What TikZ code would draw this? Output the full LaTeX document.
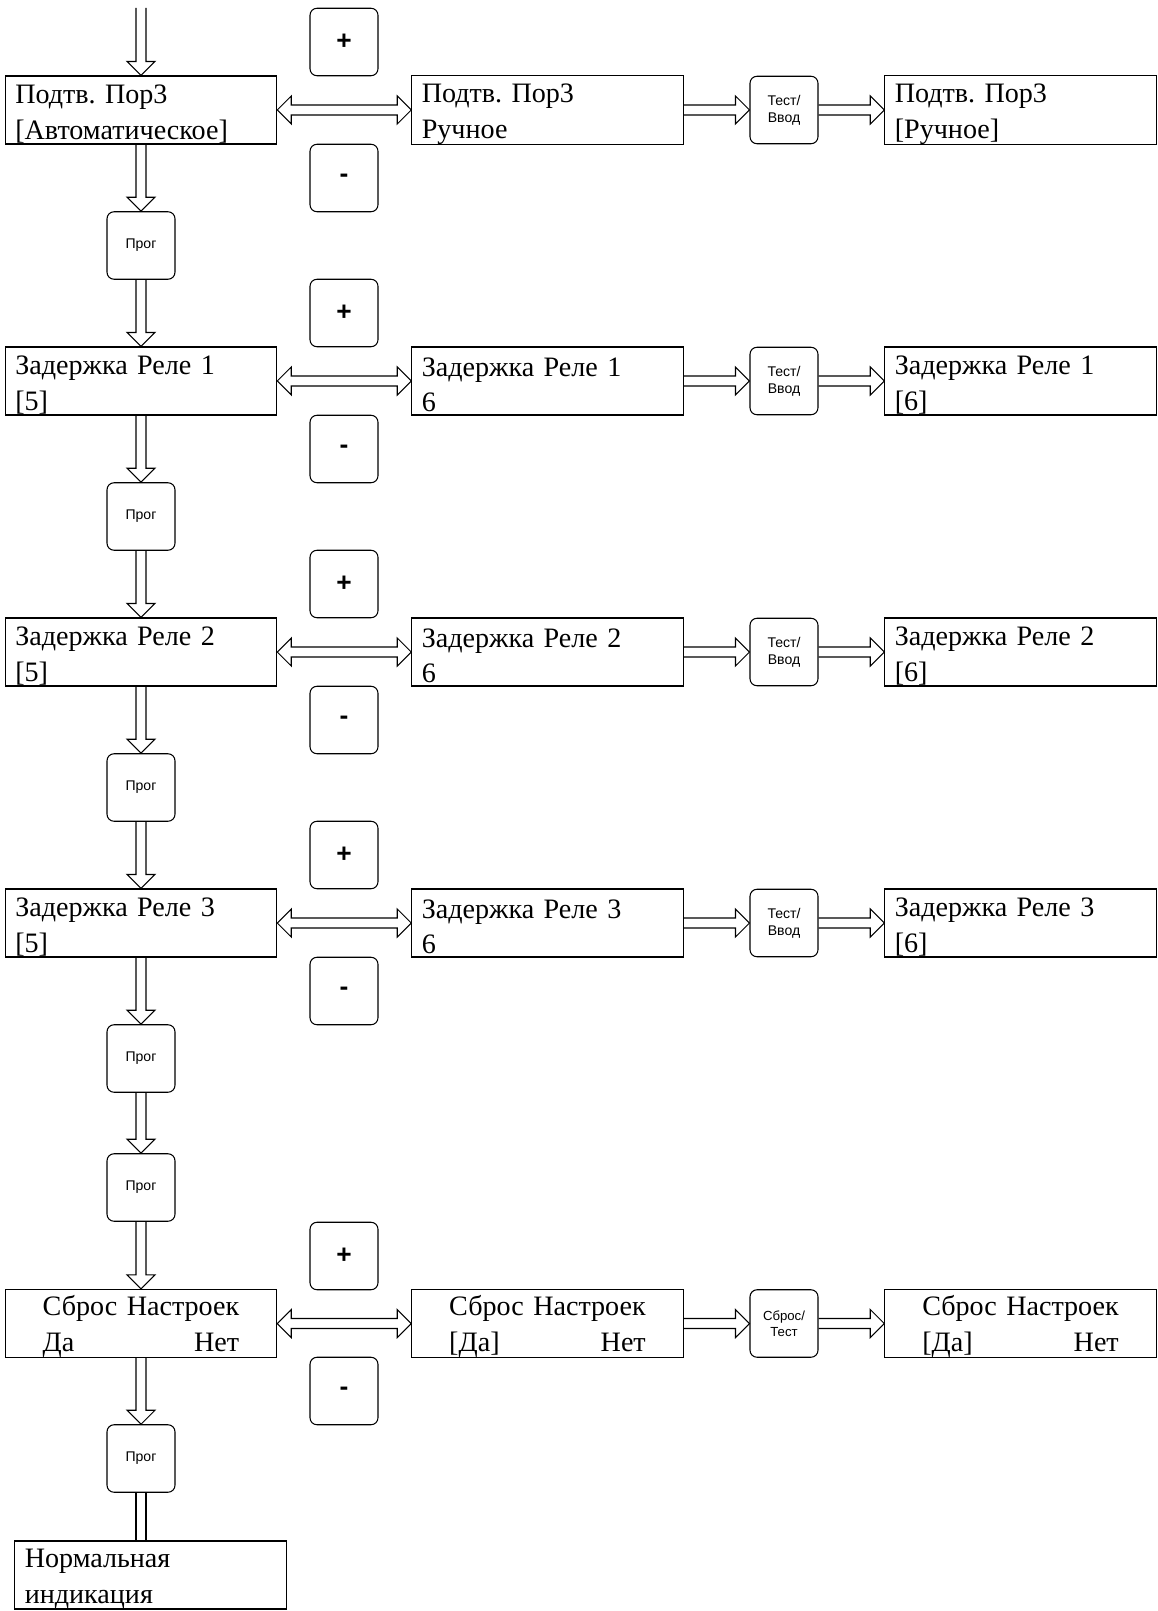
\documentclass[tikz,border=0pt]{standalone}
\usepackage{fontspec}
\setmainfont{Liberation Serif}
\setsansfont{Liberation Sans}
\usetikzlibrary{calc}
\frenchspacing

\tikzset{
  screenbox/.style={draw, line width=0.6pt, inner xsep=0.2cm, inner ysep=0pt, text width=5.03cm, minimum height=1.36cm, align=left, font=\fontsize{16}{20.4}\selectfont, execute at begin node={\rule{0pt}{15pt}}},
  keybox/.style={draw, line width=0.6pt, rounded corners=4pt, minimum width=1.36cm, minimum height=1.35cm, inner sep=0pt, align=center, font=\sffamily\fontsize{8}{9.6}\selectfont},
  signbox/.style={keybox, font=\sffamily\bfseries\fontsize{15}{18}\selectfont},
  hollow/.style={line width=0.6pt, line join=miter}
}

% hollow block arrows between two anchors
\newcommand\arrdown[2]{\draw[hollow] ($(#1)+(-5,0)$) -- ($(#2)+(-5,-14)$) -- ($(#2)+(-14,-14)$) -- (#2) -- ($(#2)+(14,-14)$) -- ($(#2)+(5,-14)$) -- ($(#1)+(5,0)$);}
\newcommand\arrright[2]{\draw[hollow] ($(#1)+(0,-5)$) -- ($(#2)+(-14,-5)$) -- ($(#2)+(-14,-14)$) -- (#2) -- ($(#2)+(-14,14)$) -- ($(#2)+(-14,5)$) -- ($(#1)+(0,5)$);}
\newcommand\arrboth[2]{\draw[hollow] (#1) -- ($(#1)+(14,-14)$) -- ($(#1)+(14,-5)$) -- ($(#2)+(-14,-5)$) -- ($(#2)+(-14,-14)$) -- (#2) -- ($(#2)+(-14,14)$) -- ($(#2)+(-14,5)$) -- ($(#1)+(14,5)$) -- ($(#1)+(14,14)$) -- cycle;}
\newcommand\arrshaft[2]{\draw[hollow] ($(#1)+(-5,0)$) -- ($(#2)+(-5,0)$) ($(#1)+(5,0)$) -- ($(#2)+(5,0)$);}
% second line of the reset screens
\newcommand\yesno[2]{\leavevmode\rlap{#1}\phantom{Сброс Настроек}\llap{#2}}

\begin{document}
\begin{tikzpicture}[x=0.02cm, y=-0.02cm]

  \useasboundingbox (0,0) rectangle (1157,1611);

  % Porog 3 confirmation
  \coordinate (start) at (141,8);
  \node (porog-auto) at (141,110) [screenbox] {Подтв. Пор3\\{[Автоматическое]}};
  \node (porog-manual) at (547.5,110) [screenbox] {Подтв. Пор3\\Ручное};
  \node (porog-enter) at (784,110) [keybox] {Тест/\\Ввод};
  \node (porog-saved) at (1020.5,110) [screenbox] {Подтв. Пор3\\{[Ручное]}};
  \node (porog-plus) at (344,42) [signbox] {+};
  \node (porog-minus) at (344,178) [signbox] {-};
  \node (porog-prog) at (141,245.5) [keybox] {Прог};

  % relay 1
  \node (relay1-current) at (141,381) [screenbox] {Задержка Реле 1\\{[5]}};
  \node (relay1-new) at (547.5,381) [screenbox] {Задержка Реле 1\\6};
  \node (relay1-enter) at (784,381) [keybox] {Тест/\\Ввод};
  \node (relay1-saved) at (1020.5,381) [screenbox] {Задержка Реле 1\\{[6]}};
  \node (relay1-plus) at (344,313) [signbox] {+};
  \node (relay1-minus) at (344,449) [signbox] {-};
  \node (relay1-prog) at (141,516.5) [keybox] {Прог};

  % relay 2
  \node (relay2-current) at (141,652) [screenbox] {Задержка Реле 2\\{[5]}};
  \node (relay2-new) at (547.5,652) [screenbox] {Задержка Реле 2\\6};
  \node (relay2-enter) at (784,652) [keybox] {Тест/\\Ввод};
  \node (relay2-saved) at (1020.5,652) [screenbox] {Задержка Реле 2\\{[6]}};
  \node (relay2-plus) at (344,584) [signbox] {+};
  \node (relay2-minus) at (344,720) [signbox] {-};
  \node (relay2-prog) at (141,787.5) [keybox] {Прог};

  % relay 3
  \node (relay3-current) at (141,923) [screenbox] {Задержка Реле 3\\{[5]}};
  \node (relay3-new) at (547.5,923) [screenbox] {Задержка Реле 3\\6};
  \node (relay3-enter) at (784,923) [keybox] {Тест/\\Ввод};
  \node (relay3-saved) at (1020.5,923) [screenbox] {Задержка Реле 3\\{[6]}};
  \node (relay3-plus) at (344,855) [signbox] {+};
  \node (relay3-minus) at (344,991) [signbox] {-};
  \node (relay3-prog) at (141,1058.5) [keybox] {Прог};
  \node (relay3-prog2) at (141,1187.5) [keybox] {Прог};

  % reset
  \node (reset-current) at (141,1323.5) [screenbox, align=center] {Сброс Настроек\\\yesno{Да}{Нет}};
  \node (reset-yes) at (547.5,1323.5) [screenbox, align=center] {Сброс Настроек\\\yesno{[Да]}{Нет}};
  \node (reset-enter) at (784,1323.5) [keybox, font=\sffamily\fontsize{7.5}{9}\selectfont] {Сброс/\\Тест};
  \node (reset-saved) at (1020.5,1323.5) [screenbox, align=center] {Сброс Настроек\\\yesno{[Да]}{Нет}};
  \node (reset-plus) at (344,1256) [signbox] {+};
  \node (reset-minus) at (344,1391) [signbox] {-};
  \node (reset-prog) at (141,1458.5) [keybox] {Прог};

  \node (normal) at (150.5,1575) [screenbox] {Нормальная\\индикация};
  \coordinate (normal-in) at (reset-prog.south |- normal.north);

  \arrdown{start}{porog-auto.north}
  \arrdown{porog-auto.south}{porog-prog.north}
  \arrdown{porog-prog.south}{relay1-current.north}
  \arrdown{relay1-current.south}{relay1-prog.north}
  \arrdown{relay1-prog.south}{relay2-current.north}
  \arrdown{relay2-current.south}{relay2-prog.north}
  \arrdown{relay2-prog.south}{relay3-current.north}
  \arrdown{relay3-current.south}{relay3-prog.north}
  \arrdown{relay3-prog.south}{relay3-prog2.north}
  \arrdown{relay3-prog2.south}{reset-current.north}
  \arrdown{reset-current.south}{reset-prog.north}
  \arrshaft{reset-prog.south}{normal-in}

  \arrboth{porog-auto.east}{porog-manual.west}
  \arrright{porog-manual.east}{porog-enter.west}
  \arrright{porog-enter.east}{porog-saved.west}

  \arrboth{relay1-current.east}{relay1-new.west}
  \arrright{relay1-new.east}{relay1-enter.west}
  \arrright{relay1-enter.east}{relay1-saved.west}

  \arrboth{relay2-current.east}{relay2-new.west}
  \arrright{relay2-new.east}{relay2-enter.west}
  \arrright{relay2-enter.east}{relay2-saved.west}

  \arrboth{relay3-current.east}{relay3-new.west}
  \arrright{relay3-new.east}{relay3-enter.west}
  \arrright{relay3-enter.east}{relay3-saved.west}

  \arrboth{reset-current.east}{reset-yes.west}
  \arrright{reset-yes.east}{reset-enter.west}
  \arrright{reset-enter.east}{reset-saved.west}

\end{tikzpicture}
\end{document}
